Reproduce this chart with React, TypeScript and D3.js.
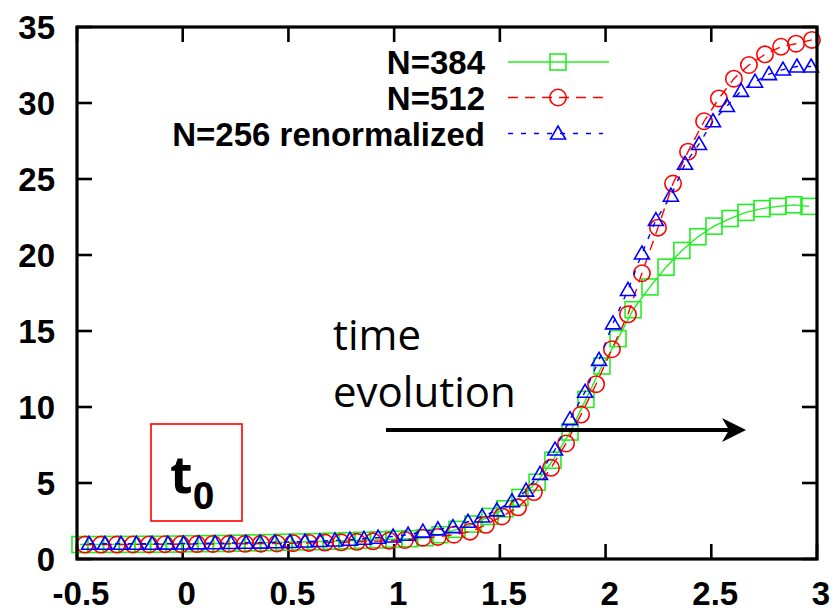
import React from 'react';
import * as d3 from 'd3';

// ---- axis ticks ----
const xTicks = [-0.5, 0, 0.5, 1, 1.5, 2, 2.5, 3];
const xTickLabels = ['-0.5', '0', '0.5', '1', '1.5', '2', '2.5', '3'];
const yTicks = [0, 5, 10, 15, 20, 25, 30, 35];
const yTickLabels = ['0', '5', '10', '15', '20', '25', '30', '35'];

// ---- series names ----
const seriesNames = ['N=384', 'N=512', 'N=256 renormalized'];

// ---- N=384 (green squares) ----
const x384 = [-0.486, -0.412, -0.337, -0.263, -0.189, -0.115, -0.040, 0.034, 0.108, 0.182, 0.257, 0.331, 0.405, 0.480, 0.554, 0.628, 0.702, 0.777, 0.851, 0.925, 0.999, 1.074, 1.146,
  1.217, 1.297, 1.373, 1.453, 1.524, 1.595, 1.676, 1.751, 1.832, 1.907, 1.983, 2.059, 2.130, 2.210, 2.286, 2.361, 2.437, 2.513, 2.589, 2.664, 2.740, 2.815, 2.891, 2.962];
const y384 = [0.95, 0.95, 0.96, 0.96, 0.97, 0.97, 0.98, 1.0, 1.01, 1.02, 1.04, 1.06, 1.08, 1.1, 1.12, 1.14, 1.17, 1.2, 1.23, 1.26, 1.3, 1.34, 1.4,
  1.6, 1.95, 2.3, 2.8, 3.3, 4.05, 5.05, 6.5, 8.35, 10.5, 12.7, 14.5, 16.4, 17.9, 19.2, 20.3, 21.2, 21.9, 22.4, 22.8, 23.05, 23.2, 23.3, 23.2];

// ---- N=512 (red circles) ----
const x512 = [-0.462, -0.386, -0.311, -0.235, -0.159, -0.084, -0.008, 0.068, 0.143, 0.219, 0.295, 0.370, 0.446, 0.522, 0.597, 0.673, 0.749, 0.824, 0.900, 0.976, 1.051,
  1.136, 1.207, 1.283, 1.359, 1.434, 1.510, 1.586, 1.661, 1.742, 1.813, 1.884, 1.955, 2.030, 2.106, 2.172, 2.248, 2.319, 2.390, 2.466, 2.536, 2.607, 2.678, 2.754, 2.830, 2.901, 2.976];
const y512 = [0.95, 0.95, 0.95, 0.96, 0.96, 0.97, 0.97, 0.98, 0.99, 1.0, 1.0, 1.01, 1.02, 1.04, 1.06, 1.08, 1.1, 1.13, 1.16, 1.2, 1.25,
  1.4, 1.45, 1.6, 1.8, 2.25, 2.8, 3.4, 4.4, 6.0, 7.6, 9.5, 11.5, 13.8, 16.1, 18.8, 21.8, 24.7, 26.8, 28.8, 30.3, 31.6, 32.5, 33.2, 33.7, 33.9, 34.15];

// ---- N=256 renormalized (blue triangles) ----
const x256 = [-0.443, -0.368, -0.292, -0.219, -0.145, -0.070, 0.004, 0.077, 0.153, 0.228, 0.299,
  0.366, 0.436, 0.507, 0.578, 0.649, 0.720, 0.791, 0.857, 0.924, 0.995, 1.066,
  1.136, 1.207, 1.278, 1.349, 1.416, 1.486, 1.557, 1.624, 1.690, 1.761, 1.832, 1.903, 1.969, 2.035, 2.106, 2.172, 2.238, 2.309, 2.376, 2.442, 2.508, 2.574, 2.641, 2.707, 2.773, 2.839, 2.905, 2.972];
const y256 = [1.0, 1.0, 1.0, 1.0, 1.0, 1.01, 1.02, 1.03, 1.04, 1.05, 1.07,
  1.08, 1.1, 1.12, 1.15, 1.18, 1.22, 1.27, 1.33, 1.4, 1.48, 1.6,
  1.8, 1.95, 2.1, 2.45, 2.8, 3.2, 3.8, 4.5, 5.6, 7.2, 9.2, 11.0, 13.1, 15.5, 17.7, 20.1, 22.3, 23.9, 26.0, 27.3, 28.8, 29.8, 30.8, 31.4, 31.9, 32.2, 32.4, 32.4];

const W = 834, H = 612;
const L = 77, R = 817, T = 27, B = 559;
const FONT = '"Liberation Sans", Arial, Helvetica, sans-serif';

const GREEN = '#22ee22';
const RED = '#ff0000';
const BLUE = '#0000ff';

function Square({ cx, cy, color }: { cx: number; cy: number; color: string }) {
  return <rect x={cx - 8} y={cy - 8} width={16} height={16} fill="none" stroke={color} strokeWidth={1.6} />;
}
function Circle({ cx, cy, color }: { cx: number; cy: number; color: string }) {
  return <circle cx={cx} cy={cy} r={8.2} fill="none" stroke={color} strokeWidth={1.6} />;
}
function Tri({ cx, cy, color }: { cx: number; cy: number; color: string }) {
  const p = `M${cx},${cy - 7.5} L${cx + 7.5},${cy + 5.5} L${cx - 7.5},${cy + 5.5} Z`;
  return <path d={p} fill="none" stroke={color} strokeWidth={1.6} />;
}

export default function App() {
  const x = d3.scaleLinear().domain([-0.5, 3]).range([L, R]);
  const y = d3.scaleLinear().domain([0, 35]).range([B, T]);
  const line = d3.line<[number, number]>().x(d => x(d[0])).y(d => y(d[1]));

  const d384 = x384.map((v, i) => [v, y384[i]] as [number, number]);
  const d512 = x512.map((v, i) => [v, y512[i]] as [number, number]);
  const d256 = x256.map((v, i) => [v, y256[i]] as [number, number]);

  const legendY = [62, 97.5, 133.5];
  const legTextRight = 485;
  const legX1 = 508, legX2 = 609, legM = 558;

  return (
    <svg width={W} height={H} style={{ position: 'absolute', left: 0, top: 0, background: '#fff' }}>
      <rect x={0} y={0} width={W} height={H} fill="#fff" />
      {/* ticks */}
      {xTicks.map((t, i) => (
        <g key={'xt' + i}>
          <line x1={x(t)} x2={x(t)} y1={B} y2={B - 15} stroke="#000" strokeWidth={2.6} />
          <line x1={x(t)} x2={x(t)} y1={T} y2={T + 15} stroke="#000" strokeWidth={2.6} />
          <text x={x(t) + 4} y={605} textAnchor="middle" fontFamily={FONT} fontWeight="bold" fontSize={33} fill="#000">{xTickLabels[i]}</text>
        </g>
      ))}
      {yTicks.map((t, i) => (
        <g key={'yt' + i}>
          <line x1={L} x2={L + 15} y1={y(t)} y2={y(t)} stroke="#000" strokeWidth={2.6} />
          <line x1={R} x2={R - 15} y1={y(t)} y2={y(t)} stroke="#000" strokeWidth={2.6} />
          <text x={55} y={y(t) + 12} textAnchor="end" fontFamily={FONT} fontWeight="bold" fontSize={33} fill="#000">{yTickLabels[i]}</text>
        </g>
      ))}

      {/* series: N=384 */}
      <path d={line(d384) || ''} fill="none" stroke={GREEN} strokeWidth={1.4} />
      {d384.map((d, i) => <Square key={'s' + i} cx={x(d[0])} cy={y(d[1])} color={GREEN} />)}
      {/* series: N=512 */}
      <path d={line(d512) || ''} fill="none" stroke={RED} strokeWidth={1.4} strokeDasharray="10,7" />
      {d512.map((d, i) => <Circle key={'c' + i} cx={x(d[0])} cy={y(d[1])} color={RED} />)}
      {/* series: N=256 renormalized */}
      <path d={line(d256) || ''} fill="none" stroke={BLUE} strokeWidth={1.4} strokeDasharray="5,8" />
      {d256.map((d, i) => <Tri key={'t' + i} cx={x(d[0])} cy={y(d[1])} color={BLUE} />)}

      {/* legend */}
      {seriesNames.map((n, i) => (
        <text key={'lt' + i} x={legTextRight} y={legendY[i] + 12} textAnchor="end" fontFamily={FONT} fontWeight="bold" fontSize={33} fill="#000">{n}</text>
      ))}
      <line x1={legX1} x2={legX2} y1={legendY[0]} y2={legendY[0]} stroke={GREEN} strokeWidth={1.4} />
      <Square cx={legM} cy={legendY[0]} color={GREEN} />
      <line x1={legX1} x2={legX2} y1={legendY[1]} y2={legendY[1]} stroke={RED} strokeWidth={1.4} strokeDasharray="10,7" />
      <Circle cx={legM} cy={legendY[1]} color={RED} />
      <line x1={legX1} x2={legX2 - 6} y1={legendY[2]} y2={legendY[2]} stroke={BLUE} strokeWidth={1.4} strokeDasharray="5,8" />
      <Tri cx={legM} cy={legendY[2]} color={BLUE} />

      {/* annotations */}
      <text x={333} y={350} fontFamily='"Open Sans", sans-serif' fontSize={42} fill="#000">time</text>
      <text x={333} y={407} fontFamily='"Open Sans", sans-serif' fontSize={42} fill="#000">evolution</text>
      <line x1={386} x2={732} y1={430} y2={430} stroke="#000" strokeWidth={4} />
      <path d="M746,430 L722,418 L729,430 L722,442 Z" fill="#000" />

      <rect x={151} y={424} width={91} height={97} fill="none" stroke={RED} strokeWidth={1.6} />
      <text x={170} y={493} fontFamily='"Open Sans", sans-serif' fontWeight="bold" fontSize={52} fill="#000">t</text>
      <text x={193} y={509} fontFamily='"Open Sans", sans-serif' fontWeight="bold" fontSize={37} fill="#000">0</text>

      {/* frame */}
      <rect x={L} y={T} width={R - L} height={B - T} fill="none" stroke="#000" strokeWidth={3.2} />
    </svg>
  );
}
